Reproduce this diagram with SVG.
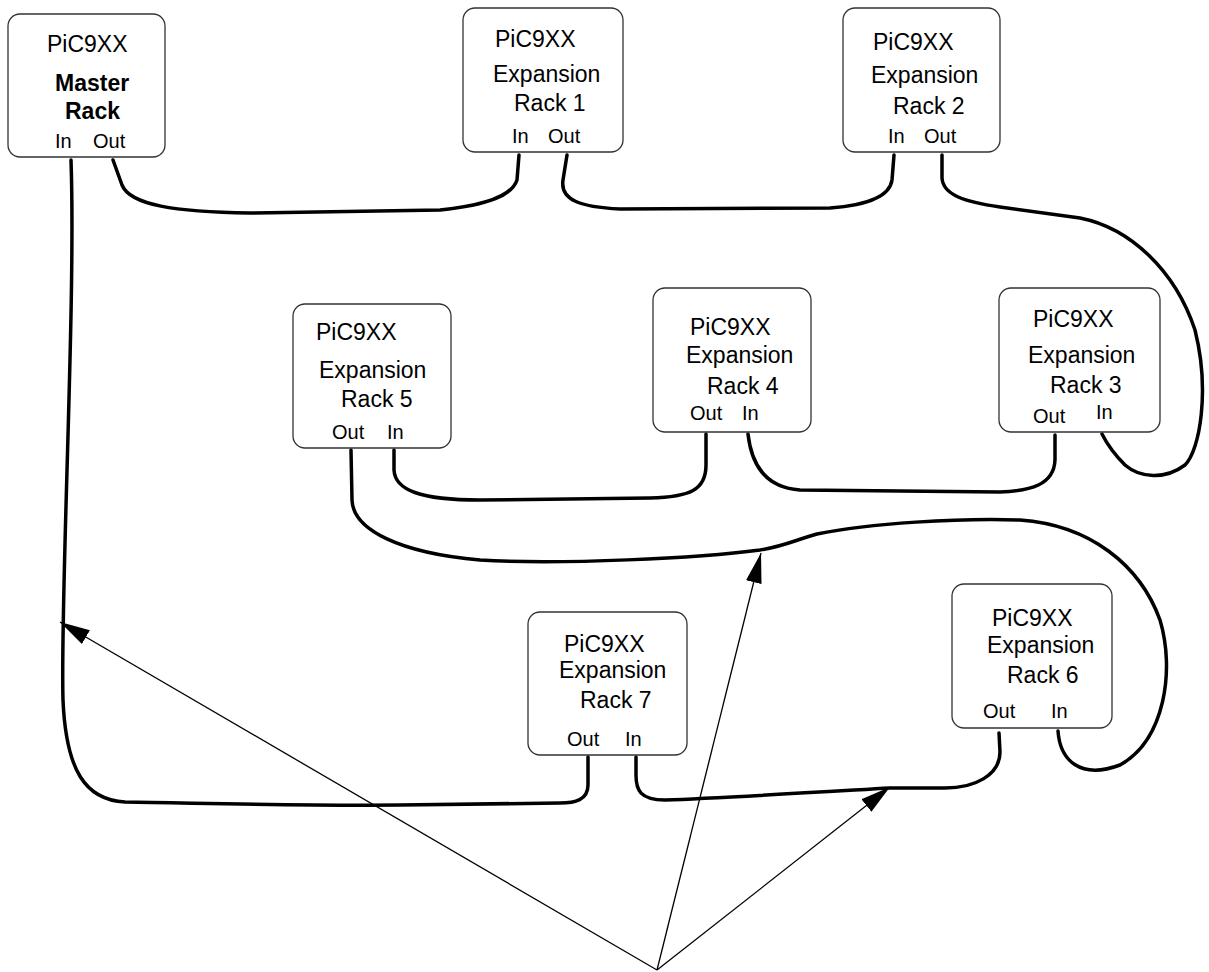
<svg xmlns="http://www.w3.org/2000/svg" width="1209" height="972" viewBox="0 0 1209 972">
<style>
.box{fill:#fff;stroke:#333;stroke-width:1.3}
.t{font-family:"Liberation Sans",Arial,sans-serif;font-size:23px;fill:#000}
.b{font-weight:bold}
.p{font-family:"Liberation Sans",Arial,sans-serif;font-size:20px;fill:#000}
.w{fill:none;stroke:#000;stroke-width:3.5;stroke-linecap:round}
.a{fill:none;stroke:#000;stroke-width:1.3}
</style>
<defs>
<marker id="ah" markerUnits="userSpaceOnUse" markerWidth="32" markerHeight="16" refX="30" refY="8" orient="auto">
<path d="M0,0 L30,8 L0,16 Z" fill="#000"/>
</marker>
</defs>
<rect width="1209" height="972" fill="#fff"/>
<g id="connectors">
<path class="w" d="M113,160 L122,185 C130,205 175,212 250,213 L440,210 C490,205 512,195 517,180 L519,155"/>
<path class="w" d="M567,155 L563,180 C560,200 580,207 620,209 L830,208 C870,205 890,195 892,180 L894,155"/>
<path class="w" d="M942,155 L942,178 C943,195 965,202 1000,207 L1080,218 C1130,228 1175,270 1195,330 C1210,390 1200,450 1185,465 C1165,480 1140,478 1125,465 C1110,450 1105,440 1102,434"/>
<path class="w" d="M1055,435 L1055,460 C1054,485 1030,491 1000,492 L800,490 C770,488 752,470 748,434"/>
<path class="w" d="M706,434 L706,465 C706,490 690,497 650,498 L480,500 C420,500 395,490 394,470 L394,450"/>
<path class="w" d="M351,450 L352,500 C353,530 400,553 480,560 C560,565 700,558 760,550 C785,546 795,540 817,534 C870,523 960,518 1020,520 C1090,525 1140,565 1160,620 C1175,670 1165,740 1120,765 C1080,780 1060,760 1058,731"/>
<path class="w" d="M999,733 L1000,752 C1000,775 975,788 945,788 L890,788 C820,792 720,798 665,800 C640,800 636,790 636,775 L636,757"/>
<path class="w" d="M588,757 L588,785 C588,800 575,803 560,803 L400,805 C300,806 200,803 125,802 C85,800 66,770 63,700 C60,600 76,300 71,160"/>
<line class="a" x1="657" y1="970" x2="60" y2="622" marker-end="url(#ah)"/>
<line class="a" x1="657" y1="970" x2="761" y2="553" marker-end="url(#ah)"/>
<line class="a" x1="657" y1="970" x2="890" y2="787" marker-end="url(#ah)"/>
</g>
<g id="master">
<rect class="box" x="8" y="14" width="157" height="143" rx="12"/>
<text class="t" x="47" y="52">PiC9XX</text>
<text class="t b" x="55" y="91">Master</text>
<text class="t b" x="65" y="119">Rack</text>
<text class="p" x="55" y="148">In</text>
<text class="p" x="93" y="148">Out</text>
</g>
<g id="rack1">
<rect class="box" x="463" y="8" width="160" height="144" rx="12"/>
<text class="t" x="495" y="47">PiC9XX</text>
<text class="t" x="493" y="82">Expansion</text>
<text class="t" x="514" y="111">Rack 1</text>
<text class="p" x="512" y="143">In</text>
<text class="p" x="548" y="143">Out</text>
</g>
<g id="rack2">
<rect class="box" x="843" y="8" width="157" height="144" rx="12"/>
<text class="t" x="873" y="50">PiC9XX</text>
<text class="t" x="871" y="83">Expansion</text>
<text class="t" x="893" y="114">Rack 2</text>
<text class="p" x="888" y="143">In</text>
<text class="p" x="924" y="143">Out</text>
</g>
<g id="rack3">
<rect class="box" x="999" y="288" width="161" height="144" rx="12"/>
<text class="t" x="1033" y="327">PiC9XX</text>
<text class="t" x="1028" y="363">Expansion</text>
<text class="t" x="1050" y="393">Rack 3</text>
<text class="p" x="1033" y="423">Out</text>
<text class="p" x="1096" y="419">In</text>
</g>
<g id="rack4">
<rect class="box" x="653" y="288" width="158" height="144" rx="12"/>
<text class="t" x="690" y="335">PiC9XX</text>
<text class="t" x="686" y="363">Expansion</text>
<text class="t" x="707" y="394">Rack 4</text>
<text class="p" x="690" y="420">Out</text>
<text class="p" x="742" y="420">In</text>
</g>
<g id="rack5">
<rect class="box" x="293" y="304" width="158" height="144" rx="12"/>
<text class="t" x="316" y="340">PiC9XX</text>
<text class="t" x="319" y="378">Expansion</text>
<text class="t" x="341" y="407">Rack 5</text>
<text class="p" x="332" y="439">Out</text>
<text class="p" x="387" y="439">In</text>
</g>
<g id="rack6">
<rect class="box" x="952" y="584" width="160" height="144" rx="12"/>
<text class="t" x="992" y="626">PiC9XX</text>
<text class="t" x="987" y="653">Expansion</text>
<text class="t" x="1007" y="683">Rack 6</text>
<text class="p" x="983" y="718">Out</text>
<text class="p" x="1051" y="718">In</text>
</g>
<g id="rack7">
<rect class="box" x="528" y="612" width="159" height="143" rx="12"/>
<text class="t" x="564" y="652">PiC9XX</text>
<text class="t" x="559" y="678">Expansion</text>
<text class="t" x="580" y="708">Rack 7</text>
<text class="p" x="567" y="746">Out</text>
<text class="p" x="625" y="746">In</text>
</g>
</svg>
